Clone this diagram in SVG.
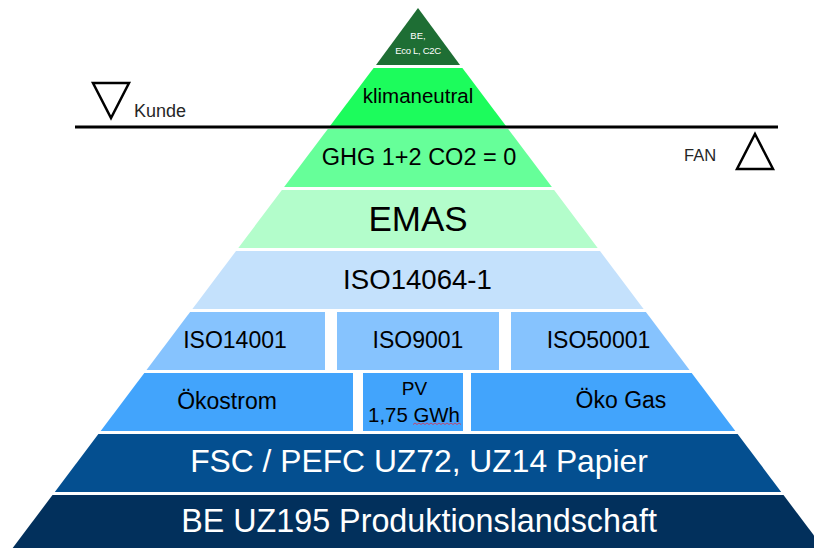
<svg xmlns="http://www.w3.org/2000/svg" width="814" height="548" viewBox="0 0 814 548">
<style>
text{font-family:"Liberation Sans",Arial,sans-serif;text-anchor:middle;}
.dk{fill:#000;}
.wh{fill:#fff;}
.lbl{fill:#262626;text-anchor:start;}
.tri{fill:none;stroke:#000;stroke-width:2.5;stroke-linejoin:miter;}
</style>
<rect width="814" height="548" fill="#fff"/>
<g id="apex">
<polygon points="418,8 460,65 376,65" fill="#1e6e34"/>
<text class="wh" x="418" y="39" font-size="9.5">BE,</text>
<text class="wh" x="418" y="54" font-size="9.5" letter-spacing="-0.3">Eco L, C2C</text>
</g>
<g id="klimaneutral">
<polygon points="373.6,68 462.4,68 506,126 330,126" fill="#1cfc5c"/>
<text class="dk" x="418" y="103" font-size="20.5">klimaneutral</text>
</g>
<g id="ghg">
<polygon points="327.8,129 508.2,129 551.9,187 284.1,187" fill="#66ff99"/>
<text class="dk" x="419" y="165" font-size="23.5">GHG 1+2 CO2 = 0</text>
</g>
<g id="emas">
<polygon points="281.9,190 554.1,190 597.7,248 238.3,248" fill="#b3fdcb"/>
<text class="dk" x="418" y="231" font-size="35">EMAS</text>
</g>
<g id="iso14064">
<polygon points="236,251 600,251 643.6,309 192.4,309" fill="#c4e1fc"/>
<text class="dk" x="417.5" y="289" font-size="27.6">ISO14064-1</text>
</g>
<g id="iso14001">
<polygon points="190.1,312 325,312 325,370 146.5,370" fill="#86c3fe"/>
<text class="dk" x="235" y="348" font-size="23">ISO14001</text>
</g>
<g id="iso9001">
<rect x="337" y="312" width="162" height="58" fill="#86c3fe"/>
<text class="dk" x="418" y="348" font-size="23">ISO9001</text>
</g>
<g id="iso50001">
<polygon points="511,312 645.9,312 689.5,370 511,370" fill="#86c3fe"/>
<text class="dk" x="598.5" y="348" font-size="23">ISO50001</text>
</g>
<g id="oekostrom">
<polygon points="144.3,373 353,373 353,431 100.7,431" fill="#42a4fc"/>
<text class="dk" x="227" y="409" font-size="23">Ökostrom</text>
</g>
<g id="pv">
<rect x="363" y="373" width="100" height="58" fill="#42a4fc"/>
<text class="dk" x="414.5" y="395" font-size="19">PV</text>
<text class="dk" x="414" y="422" font-size="20.4">1,75 GWh</text>
<path d="M413,424.5 l2,-1.5 l2,1.5 l2,-1.5 l2,1.5 l2,-1.5 l2,1.5 l2,-1.5 l2,1.5 l2,-1.5 l2,1.5 l2,-1.5 l2,1.5 l2,-1.5 l2,1.5 l2,-1.5 l2,1.5 l2,-1.5 l2,1.5 l2,-1.5 l2,1.5 l2,-1.5 l2,1.5 l2,-1.5 l2,1.5" fill="none" stroke="#e0304a" stroke-width="0.8"/>
</g>
<g id="oekogas">
<polygon points="471,373 691.7,373 735.3,431 471,431" fill="#42a4fc"/>
<text class="dk" x="621" y="408" font-size="23">Öko Gas</text>
</g>
<g id="fsc">
<polygon points="98.4,434 737.6,434 781.2,492 54.8,492" fill="#044f90"/>
<text class="wh" x="419" y="472" font-size="31.8">FSC / PEFC UZ72, UZ14 Papier</text>
</g>
<g id="be">
<polygon points="52.5,495 783.5,495 823.3,548 12.7,548" fill="#02305c"/>
<text class="wh" x="419" y="532" font-size="32.3">BE UZ195 Produktionslandschaft</text>
</g>
<g id="connectors">
<line x1="75" y1="127" x2="778" y2="127" stroke="#000" stroke-width="3"/>
</g>
<g id="kunde">
<polygon class="tri" points="93,83 129,83 111,118"/>
<text class="lbl" x="134" y="117" font-size="18">Kunde</text>
</g>
<g id="fan">
<polygon class="tri" points="755,134 773,169 737,169"/>
<text class="lbl" x="684" y="161" font-size="16.5">FAN</text>
</g>
</svg>
